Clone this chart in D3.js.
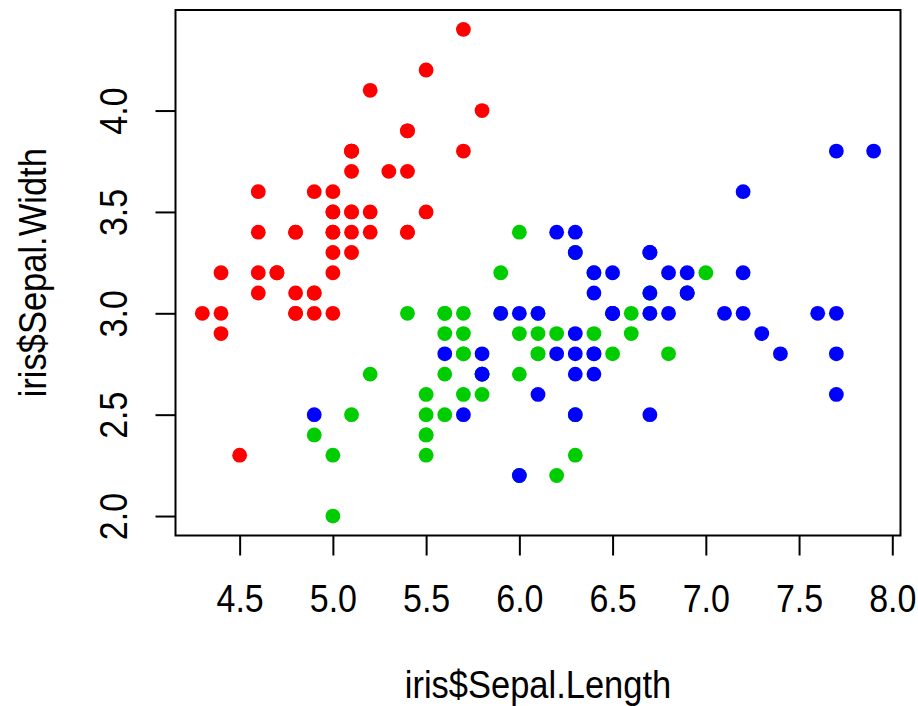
<!DOCTYPE html>
<html>
<head>
<meta charset="utf-8">
<script src="https://cdn.jsdelivr.net/npm/d3@7"></script>
<style>
  body { margin: 0; background: #fff; }
  text { font-family: "Liberation Sans", Arial, sans-serif; fill: #000; }
</style>
</head>
<body>
<script>
// iris sepal measurements, one pair of arrays per species (row order kept)
var setosaLength = [5.1,4.9,4.7,4.6,5.0,5.4,4.6,5.0,4.4,4.9,5.4,4.8,4.8,4.3,5.8,5.7,5.4,5.1,5.7,5.1,5.4,5.1,4.6,5.1,4.8,5.0,5.0,5.2,5.2,4.7,4.8,5.4,5.2,5.5,4.9,5.0,5.5,4.9,4.4,5.1,5.0,4.5,4.4,5.0,5.1,4.8,5.1,4.6,5.3,5.0];
var setosaWidth  = [3.5,3.0,3.2,3.1,3.6,3.9,3.4,3.4,2.9,3.1,3.7,3.4,3.0,3.0,4.0,4.4,3.9,3.5,3.8,3.8,3.4,3.7,3.6,3.3,3.4,3.0,3.4,3.5,3.4,3.2,3.1,3.4,4.1,4.2,3.1,3.2,3.5,3.6,3.0,3.4,3.5,2.3,3.2,3.5,3.8,3.0,3.8,3.2,3.7,3.3];
var versicolorLength = [7.0,6.4,6.9,5.5,6.5,5.7,6.3,4.9,6.6,5.2,5.0,5.9,6.0,6.1,5.6,6.7,5.6,5.8,6.2,5.6,5.9,6.1,6.3,6.1,6.4,6.6,6.8,6.7,6.0,5.7,5.5,5.5,5.8,6.0,5.4,6.0,6.7,6.3,5.6,5.5,5.5,6.1,5.8,5.0,5.6,5.7,5.7,6.2,5.1,5.7];
var versicolorWidth  = [3.2,3.2,3.1,2.3,2.8,2.8,3.3,2.4,2.9,2.7,2.0,3.0,2.2,2.9,2.9,3.1,3.0,2.7,2.2,2.5,3.2,2.8,2.5,2.8,2.9,3.0,2.8,3.0,2.9,2.6,2.4,2.4,2.7,2.7,3.0,3.4,3.1,2.3,3.0,2.5,2.6,3.0,2.6,2.3,2.7,3.0,2.9,2.9,2.5,2.8];
var virginicaLength = [6.3,5.8,7.1,6.3,6.5,7.6,4.9,7.3,6.7,7.2,6.5,6.4,6.8,5.7,5.8,6.4,6.5,7.7,7.7,6.0,6.9,5.6,7.7,6.3,6.7,7.2,6.2,6.1,6.4,7.2,7.4,7.9,6.4,6.3,6.1,7.7,6.3,6.4,6.0,6.9,6.7,6.9,5.8,6.8,6.7,6.7,6.3,6.5,6.2,5.9];
var virginicaWidth  = [3.3,2.7,3.0,2.9,3.0,3.0,2.5,2.9,2.5,3.6,3.2,2.7,3.0,2.5,2.8,3.2,3.0,3.8,2.6,2.2,3.2,2.8,2.8,2.7,3.3,3.2,2.8,3.0,2.8,3.0,2.8,3.8,2.8,2.8,2.6,3.0,3.4,3.1,3.0,3.1,3.1,3.1,2.7,3.2,3.3,3.0,2.5,3.0,3.4,3.0];

var xTicks = [4.5, 5.0, 5.5, 6.0, 6.5, 7.0, 7.5, 8.0];
var yTicks = [2.0, 2.5, 3.0, 3.5, 4.0];
var xTitle = "iris$Sepal.Length";
var yTitle = "iris$Sepal.Width";

var groups = [
  { len: setosaLength, wid: setosaWidth, color: "#ff0000" },
  { len: versicolorLength, wid: versicolorWidth, color: "#00cd00" },
  { len: virginicaLength, wid: virginicaWidth, color: "#0000ff" }
];

var width = 918, height = 706;
var box = { left: 175.5, right: 900.5, top: 10, bottom: 535.5 };

// R pads the data range by 4% on each side
var allX = [].concat(setosaLength, versicolorLength, virginicaLength);
var allY = [].concat(setosaWidth, versicolorWidth, virginicaWidth);
function padded(ext) {
  var d = (ext[1] - ext[0]) * 0.04;
  return [ext[0] - d, ext[1] + d];
}

var x = d3.scaleLinear().domain(padded(d3.extent(allX))).range([box.left, box.right]);
var y = d3.scaleLinear().domain(padded(d3.extent(allY))).range([box.bottom, box.top]);

var svg = d3.select("body").append("svg")
  .attr("width", width)
  .attr("height", height);

var fmt = d3.format(".1f");
var stretch = 1.12;

// points, drawn species by species
groups.forEach(function(g) {
  svg.append("g").selectAll("circle")
    .data(d3.range(g.len.length))
    .join("circle")
    .attr("cx", function(i) { return x(g.len[i]); })
    .attr("cy", function(i) { return y(g.wid[i]); })
    .attr("r", 7.4)
    .attr("fill", g.color);
});

// plot frame
svg.append("rect")
  .attr("x", box.left)
  .attr("y", box.top)
  .attr("width", box.right - box.left)
  .attr("height", box.bottom - box.top)
  .attr("fill", "none")
  .attr("stroke", "#000")
  .attr("stroke-width", 2);

var xAxis = svg.append("g")
  .attr("transform", "translate(0," + box.bottom + ")")
  .call(d3.axisBottom(x).tickValues(xTicks).tickFormat(fmt).tickSize(20));
xAxis.select(".domain").remove();
xAxis.selectAll(".tick line").attr("stroke", "#000").attr("stroke-width", 2);
xAxis.selectAll(".tick text")
  .attr("y", null).attr("dy", null)
  .attr("transform", "translate(0,76.5) scale(1," + stretch + ")")
  .attr("text-anchor", "middle")
  .style("font-size", "34px")
  .attr("fill", "#000");

var yAxis = svg.append("g")
  .attr("transform", "translate(" + box.left + ",0)")
  .call(d3.axisLeft(y).tickValues(yTicks).tickFormat(fmt).tickSize(20));
yAxis.select(".domain").remove();
yAxis.selectAll(".tick line").attr("stroke", "#000").attr("stroke-width", 2);
yAxis.selectAll(".tick text")
  .attr("x", null).attr("dy", null)
  .attr("transform", "translate(-48.5,0) rotate(-90) scale(1," + stretch + ")")
  .attr("text-anchor", "middle")
  .style("font-size", "34px")
  .attr("fill", "#000");

// axis titles
svg.append("text")
  .attr("transform", "translate(" + ((box.left + box.right) / 2) + ",698) scale(1," + stretch + ")")
  .attr("text-anchor", "middle")
  .style("font-size", "34.5px")
  .text(xTitle);

svg.append("text")
  .attr("transform", "translate(46," + ((box.top + box.bottom) / 2) + ") rotate(-90) scale(1," + stretch + ")")
  .attr("text-anchor", "middle")
  .style("font-size", "34.5px")
  .text(yTitle);
</script>
</body>
</html>
